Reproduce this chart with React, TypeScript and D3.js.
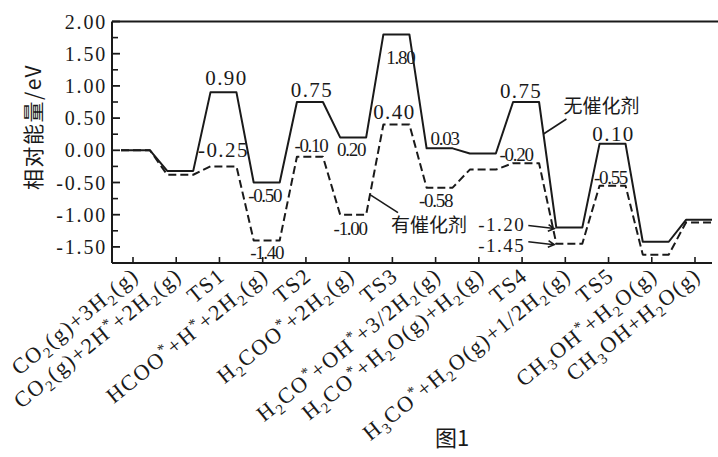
import React from "react";
import * as d3 from "d3";

const categories = [
  "CO_2(g)+3H_2(g)",
  "CO_2(g)+2H^*+2H_2(g)",
  "TS1",
  "HCOO^*+H^*+2H_2(g)",
  "TS2",
  "H_2COO^*+2H_2(g)",
  "TS3",
  "H_2CO^*+OH^*+3/2H_2(g)",
  "H_2CO^*+H_2O(g)+H_2(g)",
  "TS4",
  "H_3CO^*+H_2O(g)+1/2H_2(g)",
  "TS5",
  "CH_3OH^*+H_2O(g)",
  "CH_3OH+H_2O(g)",
];

// 无催化剂 (no catalyst, solid)
const uncatalyzed = [0, -0.32, 0.9, -0.5, 0.75, 0.2, 1.8, 0.03, -0.05, 0.75, -1.2, 0.1, -1.42, -1.08];
// 有催化剂 (with catalyst, dashed)
const catalyzed = [0, -0.38, -0.25, -1.4, -0.1, -1.0, 0.4, -0.58, -0.3, -0.2, -1.45, -0.55, -1.62, -1.12];

const yTicks = [2.0, 1.5, 1.0, 0.5, 0.0, -0.5, -1.0, -1.5];
const yMinorTicks = [1.75, 1.25, 0.75, 0.25, -0.25, -0.75, -1.25];

const uncatLabelIdx = [2, 3, 4, 5, 6, 7, 9, 11];
const catLabelIdx = [2, 3, 4, 5, 6, 7, 9, 11];
const arrowIdx = 10;

const W = 718;
const H = 457;
const LEFT = 112;
const RIGHT = 712;
const TOP = 21.5;
const BOTTOM = 263;

function rich(s: string) {
  const parts: { t: string; kind: string }[] = [];
  let buf = "";
  const flush = () => {
    if (buf) {
      parts.push({ t: buf, kind: "n" });
      buf = "";
    }
  };
  for (let i = 0; i < s.length; i++) {
    const c = s[i];
    if (c === "_" || c === "^") {
      flush();
      parts.push({ t: s[i + 1], kind: c === "_" ? "sub" : "sup" });
      i++;
    } else buf += c;
  }
  flush();
  let offset = 0;
  return parts.map((p, k) => {
    let dy = 0;
    let fs: number | undefined = undefined;
    if (p.kind === "n") {
      dy = -offset;
      offset = 0;
    } else if (p.kind === "sub") {
      dy = 5 - offset;
      offset = 5;
      fs = 15;
    } else {
      dy = -8 - offset;
      offset = -8;
      fs = 15;
    }
    return (
      <tspan key={k} dy={dy} fontSize={fs}>
        {p.t}
      </tspan>
    );
  });
}

export default function App() {
  const x = d3.scalePoint<string>().domain(categories).range([133, 695]);
  const y = d3.scaleLinear().domain([-1.75, 2]).range([BOTTOM, TOP]);
  const hw = 13;
  const xc = (i: number) => (x(categories[i]) as number) + 4;

  const pts = (vals: number[]) => {
    const p: [number, number][] = [];
    vals.forEach((v, i) => {
      const left = i === 0 ? (x(categories[0]) as number) - 12 : xc(i) - hw;
      p.push([left, y(v)]);
      p.push([xc(i) + hw, y(v)]);
    });
    return p;
  };
  const line = d3.line();

  const ink = "#1a1a1a";
  const numFont = "'Liberation Serif', 'Times New Roman', serif";
  const cjk = "'Noto Sans CJK SC', sans-serif";

  // label offsets (layout only)
  const uncatOff: Record<number, [number, number, boolean]> = {
    2: [3, -7, false],
    3: [-2, 19, true],
    4: [2, -5, false],
    5: [-2, 19, true],
    6: [4, 30, true],
    7: [5, -3, true],
    9: [-5, -4, false],
    11: [1, -3, false],
  };
  const catOff: Record<number, [number, number, boolean]> = {
    2: [0, -9, false],
    3: [0, 19, true],
    4: [1, -5, true],
    5: [-3, 20, true],
    6: [-2, -6, false],
    7: [-4, 19, true],
    9: [-10, -2, true],
    11: [-2, -2, true],
  };

  const valueLabel = (v: number, i: number, off: [number, number, boolean], key: string) => (
    <text
      key={key}
      x={xc(i) + off[0]}
      y={y(v) + off[1]}
      textAnchor="middle"
      fontFamily={numFont}
      fontSize={off[2] ? 19 : 21}
      letterSpacing={off[2] ? -1.3 : 1.4}
      fill={ink}
    >
      {v.toFixed(2)}
    </text>
  );

  const arrow = (v: number, textDy: number, key: string) => {
    const tx = xc(arrowIdx) - hw - 2;
    const ty = y(v) + 1;
    const sx = tx - 26;
    const sy = y(v) - 2;
    const ang = Math.atan2(ty - sy, tx - sx);
    const a1 = ang + Math.PI - 0.5;
    const a2 = ang + Math.PI + 0.5;
    return (
      <g key={key}>
        <text x={sx - 3} y={y(v) + textDy} textAnchor="end" fontFamily={numFont} fontSize={19} letterSpacing={1.5} fill={ink}>
          {v.toFixed(2)}
        </text>
        <path
          d={`M${sx},${sy}L${tx},${ty}M${tx + 7 * Math.cos(a1)},${ty + 7 * Math.sin(a1)}L${tx},${ty}L${tx + 7 * Math.cos(a2)},${ty + 7 * Math.sin(a2)}`}
          stroke={ink}
          strokeWidth={1.6}
          fill="none"
        />
      </g>
    );
  };

  // leader for 无催化剂: from solid descent after TS4
  const ts4 = 9;
  const sdx0 = xc(ts4) + hw, sdy0 = y(uncatalyzed[ts4]);
  const sdx1 = xc(ts4 + 1) - hw, sdy1 = y(uncatalyzed[ts4 + 1]);
  const lyA = sdy0 + 32;
  const lxA = sdx0 + ((lyA - sdy0) / (sdy1 - sdy0)) * (sdx1 - sdx0);

  // leader for 有催化剂: from dashed rise before TS3
  const ts3 = 6;
  const rx0 = xc(ts3 - 1) + hw, ry0 = y(catalyzed[ts3 - 1]);
  const rx1 = xc(ts3) - hw, ry1 = y(catalyzed[ts3]);
  const lyB = ry0 - 20;
  const lxB = rx0 + ((lyB - ry0) / (ry1 - ry0)) * (rx1 - rx0);

  return (
    <svg width={W} height={H} style={{ position: "absolute", left: 0, top: 0, background: "#fff" }}>
      <rect x={0} y={0} width={W} height={H} fill="#fff" />
      {/* frame */}
      <line x1={LEFT} y1={TOP} x2={W} y2={TOP} stroke={ink} strokeWidth={2} />
      <line x1={LEFT} y1={TOP} x2={LEFT} y2={BOTTOM} stroke={ink} strokeWidth={2} />
      <line x1={LEFT} y1={BOTTOM} x2={RIGHT} y2={BOTTOM} stroke={ink} strokeWidth={2} />

      {/* y ticks */}
      {yTicks.map((t) => (
        <g key={"yt" + t}>
          <line x1={LEFT} x2={LEFT + 8} y1={y(t)} y2={y(t)} stroke={ink} strokeWidth={1.8} />
          <text
            x={LEFT - 5}
            y={y(t)}
            dy="0.35em"
            textAnchor="end"
            fontFamily={numFont}
            fontSize={20}
            letterSpacing={1.8}
            fill={ink}
          >
            {t.toFixed(2)}
          </text>
        </g>
      ))}
      {yMinorTicks.map((t) => (
        <line key={"ym" + t} x1={LEFT} x2={LEFT + 6} y1={y(t)} y2={y(t)} stroke={ink} strokeWidth={1.6} />
      ))}

      {/* x ticks & labels */}
      {categories.map((c) => (
        <g key={"xt" + c}>
          <line x1={x(c)} x2={x(c)} y1={BOTTOM} y2={BOTTOM - 6} stroke={ink} strokeWidth={1.6} />
          <text
            transform={`translate(${(x(c) as number) + 7},${278}) rotate(-39)`}
            textAnchor="end"
            fontFamily={numFont}
            fontSize={22}
            letterSpacing={1.5}
            fill={ink}
          >
            {rich(c)}
          </text>
        </g>
      ))}

      {/* axis title */}
      <text
        transform="translate(41,127) rotate(-90)"
        textAnchor="middle"
        fontFamily={cjk}
        fontSize={21}
        letterSpacing={1.5}
        fill={ink}
      >
        相对能量/eV
      </text>

      {/* series */}
      <path d={line(pts(uncatalyzed)) || ""} fill="none" stroke={ink} strokeWidth={2} strokeLinejoin="round" />
      <path
        d={line(pts(catalyzed)) || ""}
        fill="none"
        stroke={ink}
        strokeWidth={2}
        strokeDasharray="8,4"
        strokeLinejoin="round"
      />

      {/* value labels */}
      {uncatLabelIdx.map((i) => valueLabel(uncatalyzed[i], i, uncatOff[i], "u" + i))}
      {catLabelIdx.map((i) => valueLabel(catalyzed[i], i, catOff[i], "c" + i))}
      {arrow(uncatalyzed[arrowIdx], 3, "au")}
      {arrow(catalyzed[arrowIdx], 8, "ac")}

      {/* legends */}
      <line x1={lxA} y1={lyA} x2={lxA + 23} y2={lyA - 15} stroke={ink} strokeWidth={1.6} />
      <text x={lxA + 20} y={lyA - 21} fontFamily={cjk} fontSize={19} fill={ink}>
        无催化剂
      </text>
      <line x1={lxB} y1={lyB} x2={lxB + 28} y2={lyB + 18} stroke={ink} strokeWidth={1.6} />
      <text x={lxB + 21} y={lyB + 37} fontFamily={cjk} fontSize={19} fill={ink}>
        有催化剂
      </text>

      {/* caption */}
      <text x={452} y={446} textAnchor="middle" fontFamily={cjk} fontSize={22} fill={ink}>
        图1
      </text>
    </svg>
  );
}
